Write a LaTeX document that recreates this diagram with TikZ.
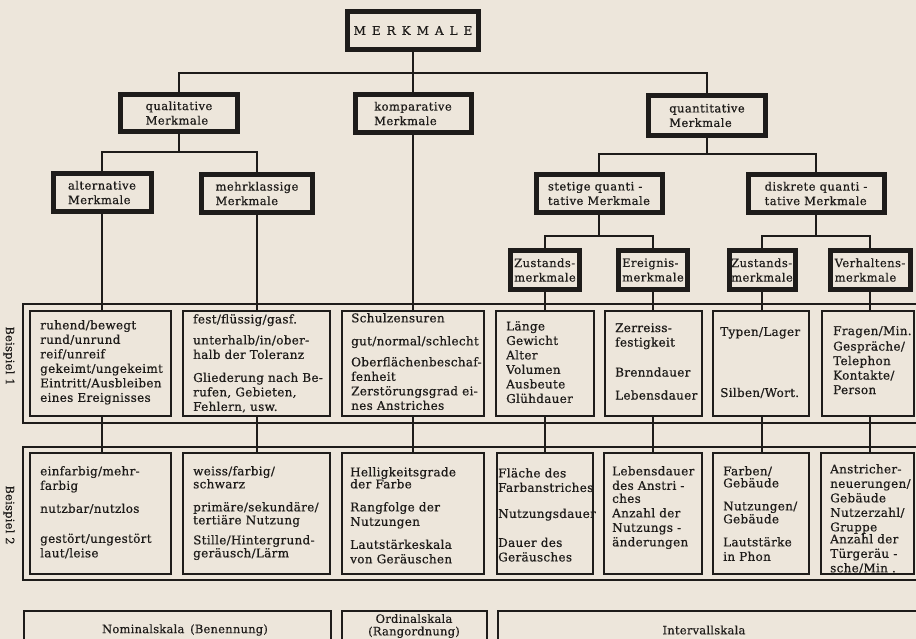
\documentclass[tikz,border=0pt]{standalone}
\usepackage{fontspec}
\setmainfont{DejaVu Serif}[FakeBold=0.5]
\newfontfamily\exfam{DejaVu Serif}[LetterSpace=2.5,FakeBold=0.6]
\newfontfamily\lvfam{DejaVu Serif}[LetterSpace=4,FakeBold=0.6]
\newfontfamily\btfam{DejaVu Serif}[LetterSpace=2,FakeBold=0.4]
\newcommand\exfont{\exfam\fontsize{12}{14.5}\selectfont}
\newcommand\lvlfont{\lvfam\fontsize{11.5}{14.5}\selectfont}
\newcommand\botfont{\btfam\fontsize{11.5}{12.5}\selectfont}
\definecolor{paper}{RGB}{237,230,219}
\definecolor{ink}{RGB}{30,28,26}
\begin{document}
\begin{tikzpicture}[x=1pt,y=-1pt,
  hbox/.style={draw=ink, line width=5pt, inner sep=0pt, align=left, text=ink, font=\lvlfont},
  ebox/.style={draw=ink, line width=1.5pt, inner sep=0pt},
  frame/.style={draw=ink, line width=1.7pt},
  conn/.style={draw=ink, line width=1.9pt},
  ex/.style={font=\exfont, align=left, anchor=north west, inner sep=0pt, text=ink},
  lbl/.style={font=\botfont, text=ink, inner sep=0pt},
]
\fill[paper] (0,0) rectangle (916,639);
\useasboundingbox (0,0) rectangle (916,639);
\clip (0,0) rectangle (916,639);

% ---------- hierarchy boxes ----------
\node[hbox, minimum width=131pt, minimum height=38pt, font=\fontsize{12}{13}\selectfont] (merk) at (413,30.5)
  {M\hskip6pt E\hskip6pt R\hskip6pt K\hskip6pt M\hskip6pt A\hskip6pt L\hskip6pt E};
\node[hbox, minimum width=117pt, minimum height=37pt] (qual) at (179,113) {qualitative\\Merkmale};
\node[hbox, minimum width=116pt, minimum height=38pt] (komp) at (413,113.5) {komparative\\Merkmale};
\node[hbox, minimum width=117pt, minimum height=40pt] (quant) at (707,115.5) {quantitative\\Merkmale};
\node[hbox, minimum width=98pt, minimum height=38pt] (alt) at (102,192.5) {alternative\\Merkmale};
\node[hbox, minimum width=111pt, minimum height=38pt] (mehr) at (257,193.5) {mehrklassige\\Merkmale};
\node[hbox, minimum width=126pt, minimum height=38pt] (stet) at (599,193.5) {stetige quanti -\\tative Merkmale};
\node[hbox, minimum width=136pt, minimum height=38pt] (disk) at (816,193.5) {diskrete quanti -\\tative Merkmale};
\node[hbox, minimum width=69pt, minimum height=39pt] (zu1) at (545,270) {Zustands-\\merkmale};
\node[hbox, minimum width=69pt, minimum height=39pt] (erg) at (653,270) {Ereignis-\\merkmale};
\node[hbox, minimum width=66pt, minimum height=39pt] (zu2) at (762,270) {Zustands-\\merkmale};
\node[hbox, minimum width=80pt, minimum height=39pt] (verh) at (870,270) {Verhaltens-\\merkmale};

% ---------- frames ----------
\draw[frame] (23,304) rectangle (930,423);
\draw[frame] (23,447) rectangle (930,580);

% ---------- example boxes ----------
\node[ebox, minimum width=141pt, minimum height=105pt] (a1) at (100.5,363.5) {};
\node[ebox, minimum width=147pt, minimum height=105pt] (a2) at (256.5,363.5) {};
\node[ebox, minimum width=142pt, minimum height=105pt] (a3) at (413,363.5) {};
\node[ebox, minimum width=98pt, minimum height=105pt] (a4) at (545,363.5) {};
\node[ebox, minimum width=97pt, minimum height=105pt] (a5) at (653.5,363.5) {};
\node[ebox, minimum width=96pt, minimum height=105pt] (a6) at (761,363.5) {};
\node[ebox, minimum width=92pt, minimum height=105pt] (a7) at (868,363.5) {};

\node[ebox, minimum width=141pt, minimum height=121pt] (b1) at (100.5,513.5) {};
\node[ebox, minimum width=147pt, minimum height=121pt] (b2) at (256.5,513.5) {};
\node[ebox, minimum width=142pt, minimum height=121pt] (b3) at (413,513.5) {};
\node[ebox, minimum width=96pt, minimum height=121pt] (b4) at (545,513.5) {};
\node[ebox, minimum width=98pt, minimum height=121pt] (b5) at (653,513.5) {};
\node[ebox, minimum width=96pt, minimum height=121pt] (b6) at (761,513.5) {};
\node[ebox, minimum width=93pt, minimum height=121pt] (b7) at (867.5,513.5) {};

% ---------- connectors ----------
\coordinate (j0) at (413,73);
\coordinate (j1) at (179,152);
\coordinate (j2) at (707,154);
\coordinate (j3) at (599,236);
\coordinate (j4) at (816,236);
\draw[conn] (merk.south) -- (komp.north);
\draw[conn] (qual.north) |- (j0) -| (quant.north);
\draw[conn] (qual.south) -- (j1);
\draw[conn] (alt.north) |- (j1) -| (mehr.north);
\draw[conn] (quant.south) -- (j2);
\draw[conn] (stet.north) |- (j2) -| (disk.north);
\draw[conn] (stet.south) -- (j3);
\draw[conn] (zu1.north) |- (j3) -| (erg.north);
\draw[conn] (disk.south) -- (j4);
\draw[conn] (zu2.north) |- (j4) -| (verh.north);
\foreach \u/\a/\b in {alt/a1/b1, mehr/a2/b2, komp/a3/b3, zu1/a4/b4, erg/a5/b5, zu2/a6/b6, verh/a7/b7}{
  \draw[conn] (\u.south) -- (\u.south |- \a.north);
  \draw[conn] (\u.south |- \a.south) -- (\u.south |- \b.north);
}

% ---------- side labels ----------
\node[lbl, rotate=-90] (bsp1) at (9,356) {Beispiel 1};
\node[lbl, rotate=-90] (bsp2) at (9,515) {Beispiel 2};

% ---------- Beispiel 1 texts ----------
\node[ex] (t11) at (40,320) {ruhend/bewegt\\rund/unrund\\reif/unreif\\gekeimt/ungekeimt\\Eintritt/Ausbleiben\\eines Ereignisses};
\node[ex] (t12) at (193,314) {fest/flüssig/gasf.\\[6.5pt]unterhalb/in/ober-\\halb der Toleranz\\[8.5pt]Gliederung nach Be-\\rufen, Gebieten,\\Fehlern, usw.};
\node[ex] (t13) at (351,313) {Schulzensuren\\[8.5pt]gut/normal/schlecht\\[6.5pt]Oberflächenbeschaf-\\fenheit\\Zerstörungsgrad ei-\\nes Anstriches};
\node[ex] (t14) at (506,321) {Länge\\Gewicht\\Alter\\Volumen\\Ausbeute\\Glühdauer};
\node[ex] (t15) at (615,323) {Zerreiss-\\festigkeit\\[15.5pt]Brenndauer\\[8.5pt]Lebensdauer};
\node[ex] (t16) at (720,327) {Typen/Lager\\[46.5pt]Silben/Wort.};
\node[ex] (t17) at (833,326) {Fragen/Min.\\[1pt]Gespräche/\\Telephon\\Kontakte/\\Person};

% ---------- Beispiel 2 texts ----------
\node[ex] (t21) at (40,466) {einfarbig/mehr-\\farbig\\[8.5pt]nutzbar/nutzlos\\[15.5pt]gestört/ungestört\\laut/leise};
\node[ex] (t22) at (193,466) {weiss/farbig/\\[-1.5pt]schwarz\\[8.5pt]primäre/sekundäre/\\[-1.5pt]tertiäre Nutzung\\[5.5pt]Stille/Hintergrund-\\[-1.5pt]geräusch/Lärm};
\node[ex] (t23) at (350,467) {Helligkeitsgrade\\[-2.5pt]der Farbe\\[8.5pt]Rangfolge der\\Nutzungen\\[8.5pt]Lautstärkeskala\\von Geräuschen};
\node[ex] (t24) at (498,468) {Fläche des\\Farbanstriches\\[11.5pt]Nutzungsdauer\\[14.5pt]Dauer des\\Geräusches};
\node[ex] (t25) at (612,466) {Lebensdauer\\des Anstri -\\[-1.5pt]ches\\Anzahl der\\Nutzungs -\\änderungen};
\node[ex] (t26) at (723,466) {Farben/\\[-2.5pt]Gebäude\\[8.5pt]Nutzungen/\\[-1.5pt]Gebäude\\[8.5pt]Lautstärke\\in Phon};
\node[ex] (t27) at (830,464) {Anstricher-\\neuerungen/\\Gebäude\\Nutzerzahl/\\Gruppe\\[-2.5pt]Anzahl der\\Türgeräu -\\sche/Min .};

% ---------- scales ----------
\draw[ebox] (24,611) rectangle (331,660);
\draw[ebox] (342,611) rectangle (487,660);
\draw[ebox] (498,611) rectangle (930,660);
\node[lbl] (nom) at (185,630) {Nominalskala\enspace(Benennung)};
\node[lbl, align=center] (ord) at (414,626) {Ordinalskala\\(Rangordnung)};
\node[lbl] (int) at (704,630) {Intervallskala};
\end{tikzpicture}
\end{document}
